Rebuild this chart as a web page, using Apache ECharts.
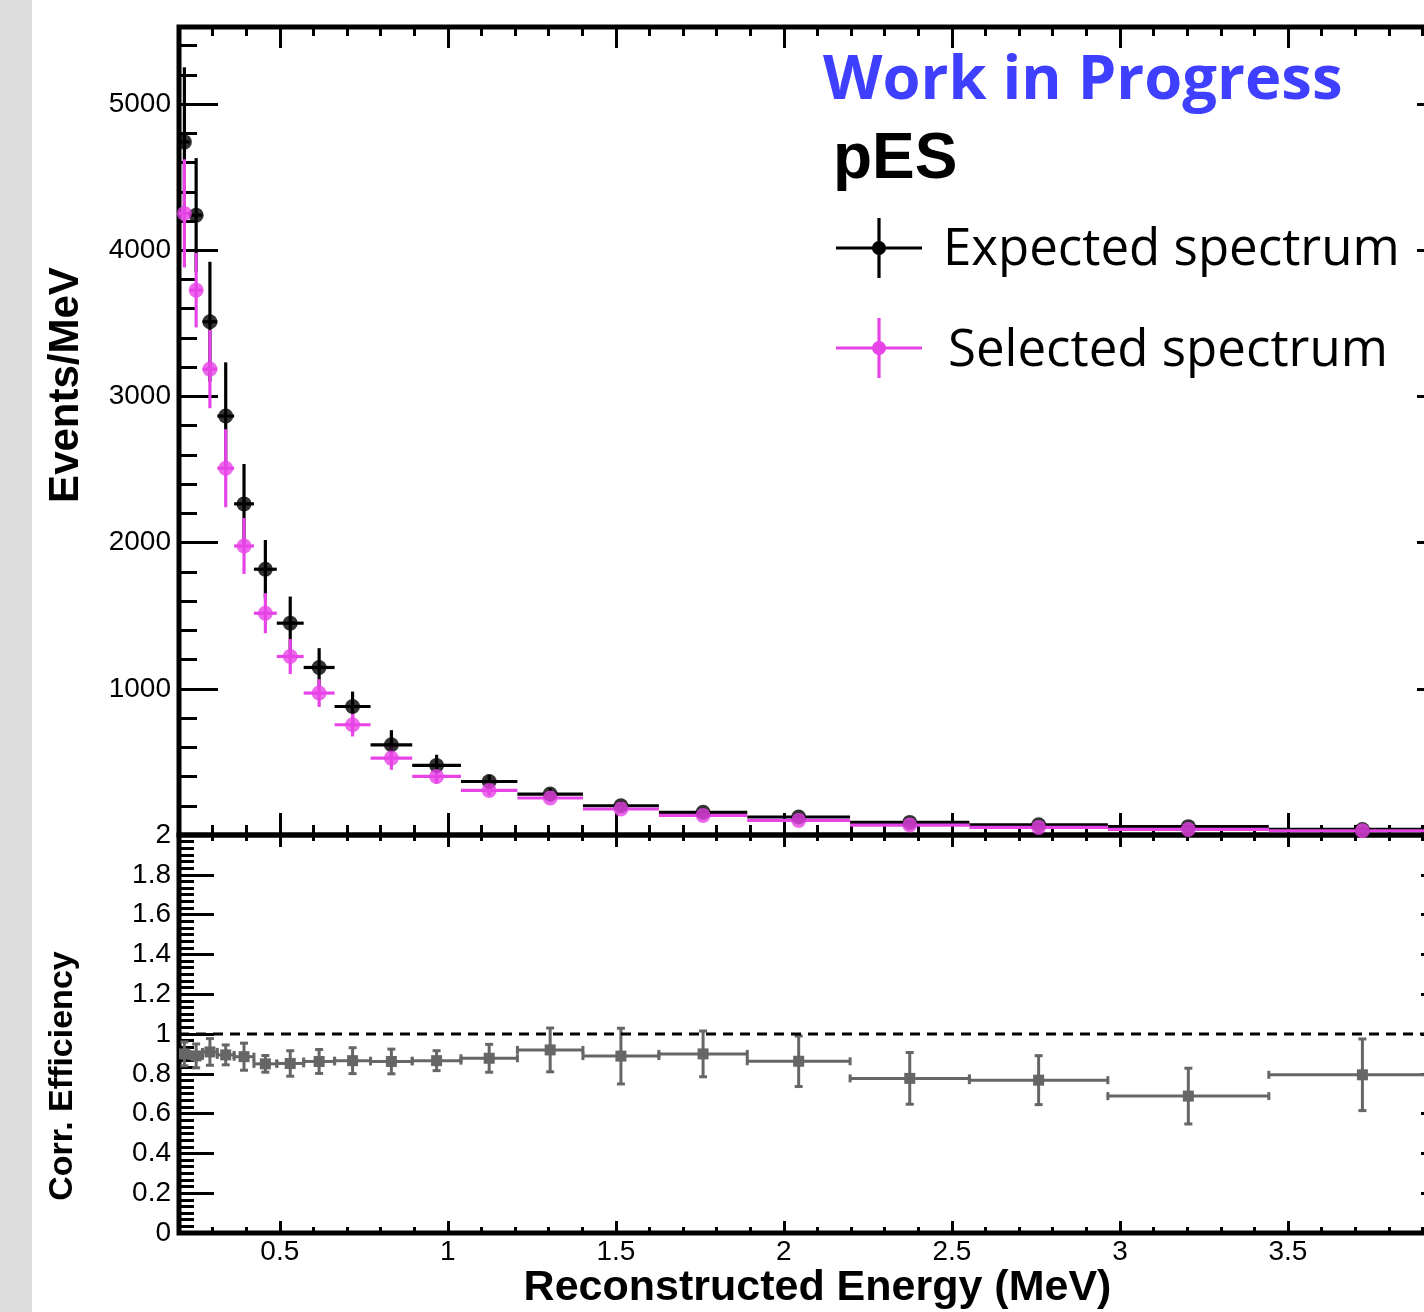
<!DOCTYPE html>
<html>
<head>
<meta charset="utf-8">
<script src="https://cdn.jsdelivr.net/npm/echarts@6/dist/echarts.min.js"></script>
<style>
  html, body { margin: 0; background: #fff; overflow: hidden; }
  /* the right frame of the plot lies past the picture's edge, so the canvas is wider than the window */
  #chart { width: 1456px; height: 1312px; }
</style>
</head>
<body>
<div id="chart"></div>
<script>
// bin edges of the reconstructed energy histogram (MeV)
const binEdges = [0.200, 0.232, 0.270, 0.314, 0.364, 0.423, 0.491, 0.571, 0.663, 0.770,
  0.894, 1.039, 1.207, 1.402, 1.628, 1.891, 2.197, 2.552, 2.964, 3.443, 4.000];

// Events/MeV
const expectedValues = [4741, 4240, 3511, 2866, 2265, 1818, 1449, 1146, 879, 617,
  476, 366, 280, 200, 155, 123, 86, 70, 57, 38];
const expectedErrors = [510, 390, 410, 367, 273, 200, 182, 132, 102, 100,
  73, 46, 40, 30, 25, 20, 15, 12, 10, 8];
const selectedValues = [4252, 3727, 3187, 2509, 1977, 1517, 1221, 971, 754, 526,
  401, 305, 253, 178, 134, 100, 68, 52, 38, 29];
const selectedErrors = [370, 255, 268, 267, 191, 137, 120, 95, 80, 80,
  50, 35, 28, 22, 18, 15, 12, 9, 7, 6];

// corrected efficiency
const efficiencyValues = [0.90, 0.89, 0.91, 0.895, 0.886, 0.85, 0.852, 0.862, 0.866, 0.862,
  0.866, 0.878, 0.92, 0.889, 0.90, 0.863, 0.777, 0.768, 0.688, 0.795];
const efficiencyErrors = [0.06, 0.06, 0.067, 0.05, 0.068, 0.042, 0.064, 0.06, 0.065, 0.062,
  0.05, 0.07, 0.11, 0.14, 0.115, 0.127, 0.13, 0.123, 0.14, 0.18];

// ticks
const xMajorTicks = [0.5, 1, 1.5, 2, 2.5, 3, 3.5, 4];
const xLabels = [0.5, 1, 1.5, 2, 2.5, 3, 3.5];
const xMinorTicks = [0.3, 0.4, 0.6, 0.7, 0.8, 0.9, 1.1, 1.2, 1.3, 1.4, 1.6, 1.7, 1.8, 1.9,
  2.1, 2.2, 2.3, 2.4, 2.6, 2.7, 2.8, 2.9, 3.1, 3.2, 3.3, 3.4, 3.6, 3.7, 3.8, 3.9];
const eventsMajorTicks = [0, 1000, 2000, 3000, 4000, 5000];
const eventsLabels = [1000, 2000, 3000, 4000, 5000];
const eventsMinorTicks = [200, 400, 600, 800, 1200, 1400, 1600, 1800, 2200, 2400, 2600, 2800,
  3200, 3400, 3600, 3800, 4200, 4400, 4600, 4800, 5200, 5400];

const labelFont = { fontSize: 28, fontFamily: 'Liberation Sans', color: '#000' };

function xAxisFor(gridIndex, position, ticks, length, labels) {
  return {
    type: 'value', gridIndex: gridIndex, position: position, min: 0.2, max: 4,
    axisLine: { show: false, onZero: false },
    splitLine: { show: false },
    axisTick: { show: true, inside: true, length: length, customValues: ticks,
      lineStyle: { color: '#000', width: 3 } },
    axisLabel: labels ? Object.assign({ show: true, customValues: labels, margin: 5 }, labelFont) : { show: false }
  };
}

function eventsAxis(position, ticks, length, labels) {
  return {
    type: 'value', gridIndex: 0, position: position, min: 0, max: 5527,
    axisLine: { show: false, onZero: false },
    splitLine: { show: false },
    axisTick: { show: true, inside: true, length: length, customValues: ticks,
      lineStyle: { color: '#000', width: 3 } },
    axisLabel: labels ? Object.assign({
      show: true, customValues: labels, margin: 8,
      formatter: function (v) { return String(v); }
    }, labelFont) : { show: false }
  };
}

function effAxis(position, showLabel) {
  return {
    type: 'value', gridIndex: 1, position: position, min: 0, max: 2, interval: 0.2,
    axisLine: { show: false, onZero: false },
    splitLine: { show: false },
    axisTick: { show: true, inside: true, length: 35, lineStyle: { color: '#000', width: 3 } },
    minorTick: { show: true, splitNumber: 6, length: 15, lineStyle: { color: '#000', width: 3 } },
    axisLabel: showLabel ? Object.assign({ show: true, margin: 8, showMinLabel: true, showMaxLabel: true }, labelFont) : { show: false }
  };
}

function histData(values, errors) {
  return values.map(function (v, i) { return [binEdges[i], binEdges[i + 1], v, errors[i]]; });
}
function markerData(values) {
  return values.map(function (v, i) { return [(binEdges[i] + binEdges[i + 1]) / 2, v]; });
}

function spectrumItem(color) {
  return function (params, api) {
    const lo = api.value(0), hi = api.value(1), y = api.value(2), e = api.value(3);
    const mid = (lo + hi) / 2;
    const a = api.coord([lo, y]), b = api.coord([hi, y]);
    const t = api.coord([mid, y + e]), u = api.coord([mid, y - e]);
    return {
      type: 'group',
      children: [
        { type: 'line', shape: { x1: a[0], y1: a[1], x2: b[0], y2: b[1] }, style: { stroke: color, lineWidth: 3.2 } },
        { type: 'line', shape: { x1: t[0], y1: t[1], x2: u[0], y2: u[1] }, style: { stroke: color, lineWidth: 3.2 } }
      ]
    };
  };
}

function efficiencyItem(params, api) {
  const color = '#666666';
  const lo = api.value(0), hi = api.value(1), y = api.value(2), e = api.value(3);
  const mid = (lo + hi) / 2;
  const a = api.coord([lo, y]), b = api.coord([hi, y]);
  const t = api.coord([mid, y + e]), u = api.coord([mid, y - e]);
  const c = api.coord([mid, y]);
  const cap = 4;
  function seg(x1, y1, x2, y2) {
    return { type: 'line', shape: { x1: x1, y1: y1, x2: x2, y2: y2 }, style: { stroke: color, lineWidth: 3 } };
  }
  return {
    type: 'group',
    children: [
      seg(a[0], a[1], b[0], b[1]),
      seg(a[0], a[1] - cap, a[0], a[1] + cap),
      seg(b[0], b[1] - cap, b[0], b[1] + cap),
      seg(t[0], t[1], u[0], u[1]),
      seg(t[0] - cap, t[1], t[0] + cap, t[1]),
      seg(u[0] - cap, u[1], u[0] + cap, u[1]),
      { type: 'rect', shape: { x: c[0] - 5.5, y: c[1] - 5.5, width: 11, height: 11 }, style: { fill: color } }
    ]
  };
}

const chart = echarts.init(document.getElementById('chart'));
chart.setOption({
  animation: false,
  backgroundColor: '#fff',
  grid: [
    { left: 179, right: 0, top: 27, height: 808, show: true, borderColor: '#000', borderWidth: 5, backgroundColor: 'transparent' },
    { left: 179, right: 0, top: 835, height: 398, show: true, borderColor: '#000', borderWidth: 5, backgroundColor: 'transparent' }
  ],
  xAxis: [
    xAxisFor(0, 'bottom', xMajorTicks, 22),
    xAxisFor(0, 'bottom', xMinorTicks, 10),
    xAxisFor(0, 'top', xMajorTicks, 21),
    xAxisFor(0, 'top', xMinorTicks, 9),
    Object.assign(xAxisFor(1, 'bottom', xMajorTicks, 12, xLabels), {
      name: 'Reconstructed Energy (MeV)', nameLocation: 'middle', nameGap: 31,
      nameTextStyle: { fontSize: 43, fontWeight: 'bold', fontFamily: 'Liberation Sans', color: '#000' }
    }),
    xAxisFor(1, 'bottom', xMinorTicks, 6),
    xAxisFor(1, 'top', xMajorTicks, 12),
    xAxisFor(1, 'top', xMinorTicks, 6)
  ],
  yAxis: [
    eventsAxis('left', eventsMajorTicks, 39, eventsLabels),
    eventsAxis('left', eventsMinorTicks, 18),
    eventsAxis('right', eventsMajorTicks, 39),
    eventsAxis('right', eventsMinorTicks, 18),
    effAxis('left', true),
    effAxis('right', false)
  ],
  series: [
    {
      name: 'Expected spectrum', type: 'custom', xAxisIndex: 0, yAxisIndex: 0, clip: true,
      renderItem: spectrumItem('#000000'), encode: { x: [0, 1], y: 2 },
      data: histData(expectedValues, expectedErrors)
    },
    {
      type: 'scatter', xAxisIndex: 0, yAxisIndex: 0, symbol: 'circle', symbolSize: 15,
      itemStyle: { color: '#000000' }, silent: true,
      data: markerData(expectedValues)
    },
    {
      name: 'Selected spectrum', type: 'custom', xAxisIndex: 0, yAxisIndex: 0, clip: true,
      renderItem: spectrumItem('#e744e7'), encode: { x: [0, 1], y: 2 },
      data: histData(selectedValues, selectedErrors)
    },
    {
      type: 'scatter', xAxisIndex: 0, yAxisIndex: 0, symbol: 'circle', symbolSize: 15,
      itemStyle: { color: '#e744e7' }, silent: true,
      data: markerData(selectedValues)
    },
    {
      type: 'line', xAxisIndex: 4, yAxisIndex: 4, symbol: 'none', silent: true,
      lineStyle: { color: '#000', width: 3, type: [10, 7] },
      data: [[0.2, 1], [4, 1]]
    },
    {
      name: 'Corr. Efficiency', type: 'custom', xAxisIndex: 4, yAxisIndex: 4, clip: true,
      renderItem: efficiencyItem, encode: { x: [0, 1], y: 2 },
      data: histData(efficiencyValues, efficiencyErrors)
    }
  ],
  graphic: [
    { type: 'rect', shape: { x: 0, y: 0, width: 32, height: 1312 }, style: { fill: '#dddddd' } },
    {
      type: 'text', x: 66, y: 385, rotation: Math.PI / 2,
      style: { text: 'Events/MeV', fontSize: 42, fontWeight: 'bold', fontFamily: 'Liberation Sans', fill: '#000',
        align: 'center', verticalAlign: 'middle', textAlign: 'center', textVerticalAlign: 'middle' }
    },
    {
      type: 'text', x: 63, y: 1076, rotation: Math.PI / 2,
      style: { text: 'Corr. Efficiency', fontSize: 34, fontWeight: 'bold', fontFamily: 'Liberation Sans', fill: '#000',
        align: 'center', verticalAlign: 'middle', textAlign: 'center', textVerticalAlign: 'middle' }
    },
    {
      type: 'text', x: 823, y: 81,
      style: { text: 'Work in Progress', fontSize: 61.5, fontWeight: 'bold', fontFamily: 'Open Sans', fill: '#3f3fff',
        align: 'left', verticalAlign: 'middle', textAlign: 'left', textVerticalAlign: 'middle' }
    },
    {
      type: 'text', x: 833, y: 160,
      style: { text: 'pES', fontSize: 64, fontWeight: 'bold', fontFamily: 'Liberation Sans', fill: '#000',
        align: 'left', verticalAlign: 'middle', textAlign: 'left', textVerticalAlign: 'middle' }
    },
    // legend entries
    { type: 'line', shape: { x1: 836, y1: 248, x2: 922, y2: 248 }, style: { stroke: '#000', lineWidth: 3.2 } },
    { type: 'line', shape: { x1: 879, y1: 218, x2: 879, y2: 278 }, style: { stroke: '#000', lineWidth: 3.2 } },
    { type: 'circle', shape: { cx: 879, cy: 248, r: 7 }, style: { fill: '#000' } },
    {
      type: 'text', x: 943, y: 250,
      style: { text: 'Expected spectrum', fontSize: 51, fontFamily: 'Open Sans', fill: '#000',
        align: 'left', verticalAlign: 'middle', textAlign: 'left', textVerticalAlign: 'middle' }
    },
    { type: 'line', shape: { x1: 836, y1: 348, x2: 922, y2: 348 }, style: { stroke: '#e744e7', lineWidth: 3.2 } },
    { type: 'line', shape: { x1: 879, y1: 318, x2: 879, y2: 378 }, style: { stroke: '#e744e7', lineWidth: 3.2 } },
    { type: 'circle', shape: { cx: 879, cy: 348, r: 7 }, style: { fill: '#e744e7' } },
    {
      type: 'text', x: 948, y: 351,
      style: { text: 'Selected spectrum', fontSize: 51, fontFamily: 'Open Sans', fill: '#000',
        align: 'left', verticalAlign: 'middle', textAlign: 'left', textVerticalAlign: 'middle' }
    }
  ]
});
</script>
</body>
</html>
